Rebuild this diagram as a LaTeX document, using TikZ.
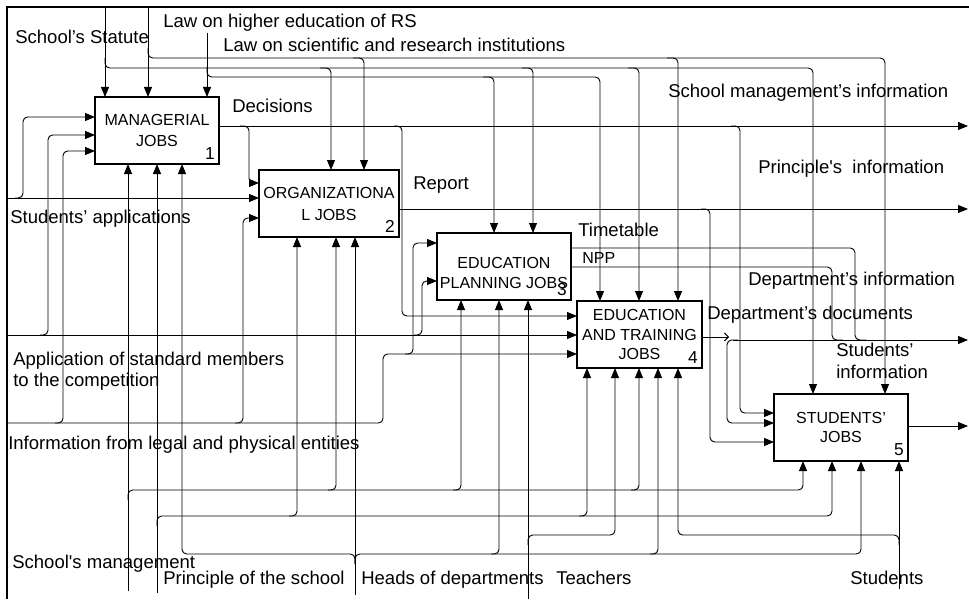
\documentclass[tikz,border=0pt]{standalone}
\usepackage{fontspec}
\setmainfont{Liberation Sans}
\usetikzlibrary{arrows.meta}

\newcommand\jobfont{\fontsize{12}{14.5}\selectfont}
\newcommand\tagfont{\fontsize{13}{14}\selectfont}
\newcommand\lblfont{\fontsize{13.9}{16.5}\selectfont}

\tikzset{
  x=0.75pt, y=-0.75pt,
  conn/.style={line width=0.7pt, rounded corners=3.5pt},
  arr/.style={conn, -{Triangle[length=7.5pt,width=6pt]}},
  jobbox/.style={draw, line width=1.5pt, outer sep=0pt, inner sep=0pt,
                 minimum height=50.25pt, align=center, font=\jobfont},
  jobtext/.style={inner sep=0pt, align=center, font=\jobfont},
  lbl/.style={anchor=base west, inner sep=0pt, font=\lblfont},
  tag/.style={anchor=south east, inner sep=0pt, font=\tagfont},
}

\begin{document}
\begin{tikzpicture}
\useasboundingbox (0,0) rectangle (969,599);

% frame
\draw[line width=1.2pt] (7,599) -- (7,7) -- (969,7);

% activity boxes
\node[jobbox, minimum width=93pt]    (b1) at (157,130.5) {MANAGERIAL\\[1.5pt]JOBS};
\node[jobbox, minimum width=105pt]   (b2) at (329,203.5) {ORGANIZATIONA\\[2pt]L JOBS};
\node[jobbox, minimum width=100.5pt] (b3) at (504,266.5) {};
\node[jobtext] (t3) at (504,273) {EDUCATION\\PLANNING JOBS};
\node[jobbox, minimum width=93.75pt] (b4) at (639.5,334.5) {EDUCATION\\AND TRAINING\\JOBS};
\node[jobbox, minimum width=100.5pt] (b5) at (841,427.5) {STUDENTS’\\JOBS};

\node[tag] (n1) at ([xshift=-3pt,yshift=3.5pt]b1.south east) {1};
\node[tag] (n2) at ([xshift=-3pt,yshift=3.5pt]b2.south east) {2};
\node[tag] (n3) at ([xshift=-3pt,yshift=3pt]b3.south east) {3};
\node[tag] (n4) at ([xshift=-3pt,yshift=3.5pt]b4.south east) {4};
\node[tag] (n5) at ([xshift=-3pt,yshift=3.5pt]b5.south east) {5};

% free ends of the boundary arrows
\coordinate (inStat) at (105,7);
\coordinate (inHigh) at (148,7);
\coordinate (inSci)  at (207,33);
\coordinate (inApp)  at (7,198);
\coordinate (inStd)  at (7,335);
\coordinate (inInfo) at (7,423);
\coordinate (outMgmt) at (968,126);
\coordinate (outPrin) at (968,209);
\coordinate (outDept) at (968,340);
\coordinate (outStud) at (968,426);
\coordinate (mMgmt)  at (128,591);
\coordinate (mPrin)  at (157,593);
\coordinate (mHeads) at (355,595);
\coordinate (mTeach) at (528,599);
\coordinate (mStud)  at (899,589);

% controls
\draw[arr] (inStat) -- (b1.north -| inStat);
\draw[arr] (inHigh) -- (b1.north -| inHigh);
\draw[arr] (inSci)  -- (b1.north -| inSci);
% School's Statute
\draw[arr] (105,58) -- (105,68) -- (813,68) -- (b5.north -| 813,0);
\draw[arr] (320,68) -- (331,68) -- (b2.north -| 331,0);
\draw[arr] (522,68) -- (533,68) -- (b3.north -| 533,0);
\draw[arr] (628,68) -- (639,68) -- (b4.north -| 639,0);
% Law on higher education
\draw[arr] (148,48) -- (148,58) -- (885,58) -- (b5.north -| 885,0);
\draw[arr] (353,58) -- (364,58) -- (b2.north -| 364,0);
\draw[arr] (667,58) -- (678,58) -- (b4.north -| 678,0);
% Law on scientific and research institutions
\draw[arr] (207,67) -- (207,77) -- (600,77) -- (b4.north -| 600,0);
\draw[arr] (483,77) -- (494,77) -- (b3.north -| 494,0);

% inputs
\draw[arr] (inApp) -- (b2.west |- inApp);
\draw[arr] (15,198) -- (23,198) -- (23,117) -- (b1.west |- 0,117);
\draw[arr] (inStd) -- (b4.west |- inStd);
\draw[arr] (40,335) -- (48,335) -- (48,135) -- (b1.west |- 0,135);
\draw[arr] (414,335) -- (422,335) -- (422,281) -- (b3.west |- 0,281);
\draw[arr] (inInfo) -- (383,423) -- (383,354) -- (b4.west |- 0,354);
\draw[arr] (55,423) -- (63,423) -- (63,151) -- (b1.west |- 0,151);
\draw[arr] (235,423) -- (243,423) -- (243,218) -- (b2.west |- 0,218);
\draw[arr] (405,354) -- (413,354) -- (413,243) -- (b3.west |- 0,243);

% outputs
\draw[arr] (b1.east |- outMgmt) -- (outMgmt);
\draw[arr] (240,126) -- (249,126) -- (249,183) -- (b2.west |- 0,183);
\draw[arr] (394,126) -- (402,126) -- (402,316) -- (b4.west |- 0,316);
\draw[arr] (731,126) -- (740,126) -- (740,413) -- (b5.west |- 0,413);
\draw[arr] (b2.east |- outPrin) -- (outPrin);
\draw[arr] (701,209) -- (710,209) -- (710,442) -- (b5.west |- 0,442);
\draw[conn] (b3.east |- 0,248) -- (855,248) -- (855,340) -- (866,340);
\draw[conn] (b3.east |- 0,267) -- (832,267) -- (832,340) -- (843,340);
\draw[conn, -{Straight Barb[length=3pt,width=6pt]}] (b4.east |- 0,337) -- (729,337);
\draw[arr] (733,340) -- (outDept);
\draw[arr] (738,340) -- (727,340) -- (727,423) -- (b5.west |- 0,423);
\draw[arr] (b5.east |- outStud) -- (outStud);

% mechanisms
\draw[arr] (mMgmt) -- (b1.south -| mMgmt);
\draw[arr] (128,500) -- (128,490) -- (803,490) -- (b5.south -| 803,0);
\draw[arr] (328,490) -- (336,490) -- (b2.south -| 336,0);
\draw[arr] (453,490) -- (461,490) -- (b3.south -| 461,0);
\draw[arr] (631,490) -- (639,490) -- (b4.south -| 639,0);
\draw[arr] (mPrin) -- (b1.south -| mPrin);
\draw[arr] (157,526) -- (157,516) -- (832,516) -- (b5.south -| 832,0);
\draw[arr] (289,516) -- (297,516) -- (b2.south -| 297,0);
\draw[arr] (579,516) -- (587,516) -- (b4.south -| 587,0);
\draw[arr] (mHeads) -- (b2.south -| mHeads);
\draw[arr] (355,564) -- (355,554) -- (182,554) -- (b1.south -| 182,0);
\draw[arr] (355,564) -- (355,554) -- (861,554) -- (b5.south -| 861,0);
\draw[arr] (491,554) -- (499,554) -- (b3.south -| 499,0);
\draw[arr] (650,554) -- (658,554) -- (b4.south -| 658,0);
\draw[arr] (mTeach) -- (b3.south -| mTeach);
\draw[arr] (528,545) -- (528,535) -- (615,535) -- (b4.south -| 615,0);
\draw[arr] (mStud) -- (b5.south -| mStud);
\draw[arr] (899,545) -- (899,535) -- (678,535) -- (b4.south -| 678,0);

% labels
\node[lbl] (lStat) at (15,43.5)  {School’s Statute};
\node[lbl] (lHigh) at (163,27.5) {Law on higher education of RS};
\node[lbl] (lSci)  at (223,51.5) {Law on scientific and research institutions};
\node[lbl] (lDec)  at (232,112.5) {Decisions};
\node[lbl] (lRep)  at (413,189.5) {Report};
\node[lbl] (lApp)  at (10,223.5) {Students’ applications};
\node[lbl] (lStdA) at (13,365.5) {Application of standard members};
\node[lbl] (lStdB) at (13,386.5) {to the competition};
\node[lbl] (lInfo) at (8,449.5) {Information from legal and physical entities};
\node[lbl] (lMgmt) at (12,568.5) {School\textquotesingle s management};
\node[lbl] (lPrin) at (163,584.5) {Principle of the school};
\node[lbl] (lHead) at (361,584.5) {Heads of departments};
\node[lbl] (lTeach) at (556,584.5) {Teachers};
\node[lbl] (lStud) at (850,584.5) {Students};
\node[lbl] (lOMg)  at (668,97.5) {School management’s information};
\node[lbl] (lOPr)  at (758,173.5) {Principle\textquotesingle s~ information};
\node[lbl] (lTime) at (578,236.5) {Timetable};
\node[lbl, font=\jobfont] (lNPP) at (582,263.7) {NPP};
\node[lbl] (lDInf) at (748,285.5) {Department’s information};
\node[lbl] (lDDoc) at (707,319.5) {Department’s documents};
\node[lbl] (lSInA) at (836,356.5) {Students’};
\node[lbl] (lSInB) at (836,378.5) {information};
\end{tikzpicture}
\end{document}
